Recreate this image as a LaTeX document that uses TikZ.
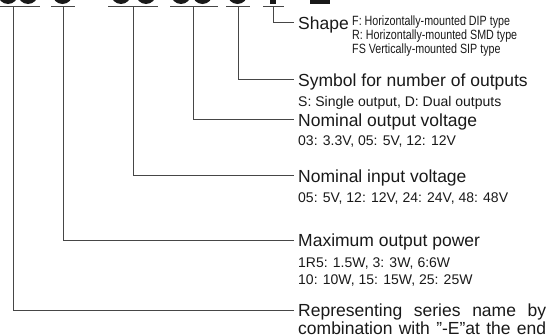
\documentclass[tikz,border=0pt]{standalone}
\usepackage{fontspec}
\setmainfont{Liberation Sans}
\newfontfamily\narrowsans[FakeStretch=0.8]{Liberation Sans}
\usetikzlibrary{positioning}
\newcommand\mainsz{\fontsize{17.5}{20}\selectfont}
\newcommand\subsz{\fontsize{14}{16}\selectfont}
\newcommand\optsz{\narrowsans\fontsize{13.4}{14}\selectfont}
\definecolor{ink}{RGB}{25,25,25}
\definecolor{lc}{RGB}{70,70,70}
\tikzset{lab/.style={anchor=base west,inner sep=0pt,font=\mainsz,text=ink,text height=12.4pt,text depth=0pt},
 sub/.style={anchor=base west,inner sep=0pt,font=\subsz,text=ink},
 opt/.style={anchor=base west,inner sep=0pt,font=\optsz,text=ink,text height=9pt,text depth=0pt},
 ul/.style={fill=lc,inner sep=0pt,minimum height=1pt},
 wire/.style={draw=lc,line width=.8pt,shorten >=4pt}}
\begin{document}
\begin{tikzpicture}[x=1pt,y=-1pt]
\useasboundingbox (0,0) rectangle (547,335);
\clip (0,0) rectangle (547,335);
% bottoms of the cut-off type code
\foreach \cx in {8,28,62.5,121,146,181,202.5,237.5} \fill[ink] (\cx,-6) circle (10);
\fill[ink] (270,0) rectangle (276,4);\fill[ink] (310,0) rectangle (330,3.5);
\node[ul,minimum width=54pt] (g1) at (13,6) {};\node[ul,minimum width=24pt] (g2) at (63,6) {};
\node[ul,minimum width=50pt] (g3) at (133,6) {};\node[ul,minimum width=48pt] (g4) at (193.5,6) {};
\node[ul,minimum width=24pt] (g5) at (238,6) {};\node[ul,minimum width=21pt] (g6) at (273,6) {};
% labels
\node[lab] (shp) at (298,29) {Shape};
\node[opt] (shpF) at (352,25) {F: Horizontally-mounted DIP type};
\node[opt] (shpR) at (352,39) {R: Horizontally-mounted SMD type};
\node[opt] (shpS) at (352,53) {FS Vertically-mounted SIP type};
\node[lab] (nout) at (298,86) {Symbol for number of outputs};
\node[sub] (noutS) at (298,106) {S: Single output, D: Dual outputs};
\node[lab] (vout) at (298,126) {Nominal output voltage};
\node[sub] (voutV) at (298,145) {03: 3.3V, 05: 5V, 12: 12V};
\node[lab] (vin) at (298,182) {Nominal input voltage};
\node[sub] (vinV) at (298,202) {05: 5V, 12: 12V, 24: 24V, 48: 48V};
\node[lab] (pw) at (298,246.5) {Maximum output power};
\node[sub] (pwA) at (298,267) {1R5: 1.5W, 3: 3W, 6:6W};
\node[sub] (pwB) at (298,284) {10: 10W, 15: 15W, 25: 25W};
\node[lab] (ser) at (298,316.5) {\makebox[248pt][s]{Representing series name by}};
\node[lab] (serB) at (298,334.5) {\makebox[248pt][s]{combination with "-E"at the end}};
% leaders
\draw[wire] (g6.center) |- (shp.west);
\draw[wire] (g5.center) |- (nout.west);
\draw[wire] (g4.center) |- (vout.west);
\draw[wire] (g3.center) |- (vin.west);
\draw[wire] (g2.center) |- (pw.west);
\draw[wire] (g1.center) |- (ser.west);
\end{tikzpicture}
\end{document}
